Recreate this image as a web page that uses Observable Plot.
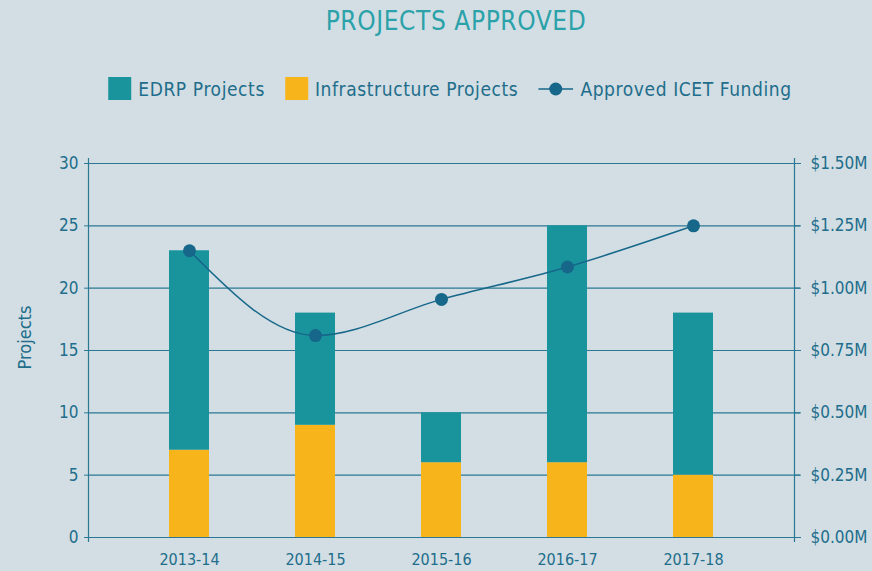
<!DOCTYPE html>
<html>
<head>
<meta charset="utf-8">
<script src="https://cdn.jsdelivr.net/npm/d3@7"></script>
<script src="https://cdn.jsdelivr.net/npm/@observablehq/plot@0.6"></script>
<style>
  html, body { margin: 0; padding: 0; background: #d2dee3; width: 872px; height: 571px; overflow: hidden; }
  body { font-family: "DejaVu Sans Condensed", "Liberation Sans Narrow", Roboto, sans-serif; font-stretch: condensed; color: #216d8b; }
  #header { position: relative; height: 125px; }
  #title { position: absolute; left: 456px; top: 6px; transform: translateX(-50%); font-size: 26px; font-weight: 300; color: #2ba2aa; white-space: nowrap; letter-spacing: 0.6px; }
  #legend { position: absolute; left: 450px; top: 77px; transform: translateX(-50%); display: flex; align-items: center; white-space: nowrap; font-size: 19px; letter-spacing: 0.6px; }
  .item { display: flex; align-items: center; margin-right: 20px; }
  .item:last-child { margin-right: 0; }
  .sw { width: 23px; height: 23px; margin-right: 7px; }
  svg.lg { margin-right: 7px; }
</style>
</head>
<body>
<div id="header">
  <div id="title">PROJECTS APPROVED</div>
  <div id="legend"></div>
</div>
<div id="chart"></div>
<script>
const years = ["2013-14", "2014-15", "2015-16", "2016-17", "2017-18"];
const infraProjects = [7, 9, 6, 6, 5];
const edrpProjects = [16, 9, 4, 19, 13];
const fundingMillions = [1.15, 0.81, 0.955, 1.085, 1.25];
const projectTicks = [0, 5, 10, 15, 20, 25, 30];
const seriesNames = ["EDRP Projects", "Infrastructure Projects", "Approved ICET Funding"];

const colors = { edrp: "#1a949c", infra: "#f8b41b", line: "#16678a", grid: "#2b7895", text: "#216d8b" };
const fontFam = '"DejaVu Sans Condensed", "Liberation Sans Narrow", Roboto, sans-serif';

// legend
const legend = document.getElementById("legend");
legend.innerHTML = `
  <div class="item"><div class="sw" style="background:${colors.edrp}"></div><span>${seriesNames[0]}</span></div>
  <div class="item"><div class="sw" style="background:${colors.infra}"></div><span>${seriesNames[1]}</span></div>
  <div class="item"><svg class="lg" width="35" height="16"><line x1="0" y1="8" x2="35" y2="8" stroke="${colors.line}" stroke-width="1.5"/><circle cx="17.5" cy="8" r="6.5" fill="${colors.line}"/></svg><span>${seriesNames[2]}</span></div>`;

const scaleFactor = 30 / 1.5; // right axis: $1.50M aligns with 30 projects

const bars = [];
years.forEach((y, i) => {
  bars.push({ year: y, series: "Infrastructure", y1: 0, y2: infraProjects[i] });
  bars.push({ year: y, series: "EDRP", y1: infraProjects[i], y2: infraProjects[i] + edrpProjects[i] });
});
const funding = years.map((y, i) => ({ year: y, value: fundingMillions[i] }));

const chart = Plot.plot({
  width: 872,
  height: 446,
  marginTop: 38,
  marginBottom: 34,
  marginLeft: 88,
  marginRight: 78,
  style: { background: "transparent", fontFamily: fontFam, fontSize: "17px", color: colors.text, fontStretch: "condensed" },
  x: { domain: years, paddingInner: 0.683, paddingOuter: 0.643, label: null },
  y: { domain: [0, 30], label: null },
  color: { domain: ["EDRP", "Infrastructure"], range: [colors.edrp, colors.infra] },
  marks: [
    Plot.ruleY(projectTicks, { stroke: colors.grid, strokeWidth: 1.2, insetRight: -6 }),
    Plot.frame({ anchor: "left", stroke: colors.grid, strokeWidth: 1.2, insetTop: -5, insetBottom: -4 }),
    Plot.frame({ anchor: "right", stroke: colors.grid, strokeWidth: 1.2, insetTop: -5, insetBottom: -4 }),
    Plot.barY(bars, { x: "year", y1: "y1", y2: "y2", fill: "series" }),
    Plot.axisY(projectTicks, { anchor: "left", tickSize: 4, tickPadding: 6, stroke: colors.grid, fill: colors.text, fontSize: 17 }),
    Plot.axisY(projectTicks, { anchor: "right", tickSize: 6, tickPadding: 10, stroke: colors.grid, fill: colors.text, fontSize: 17,
      tickFormat: d => "$" + (d / scaleFactor).toFixed(2) + "M" }),
    Plot.axisX({ tickSize: 0, tickPadding: 16, fill: colors.text, fontSize: 16 }),
    Plot.line(funding, { x: "year", y: d => d.value * scaleFactor, curve: "monotone-x", stroke: colors.line, strokeWidth: 1.5 }),
    Plot.dot(funding, { x: "year", y: d => d.value * scaleFactor, r: 6.5, fill: colors.line, stroke: "none" }),
    Plot.text(["Projects"], { frameAnchor: "left", dx: -63, dy: -13, rotate: -90, textAnchor: "middle", fill: colors.text, fontSize: 18 })
  ]
});
document.getElementById("chart").appendChild(chart);
</script>
</body>
</html>
